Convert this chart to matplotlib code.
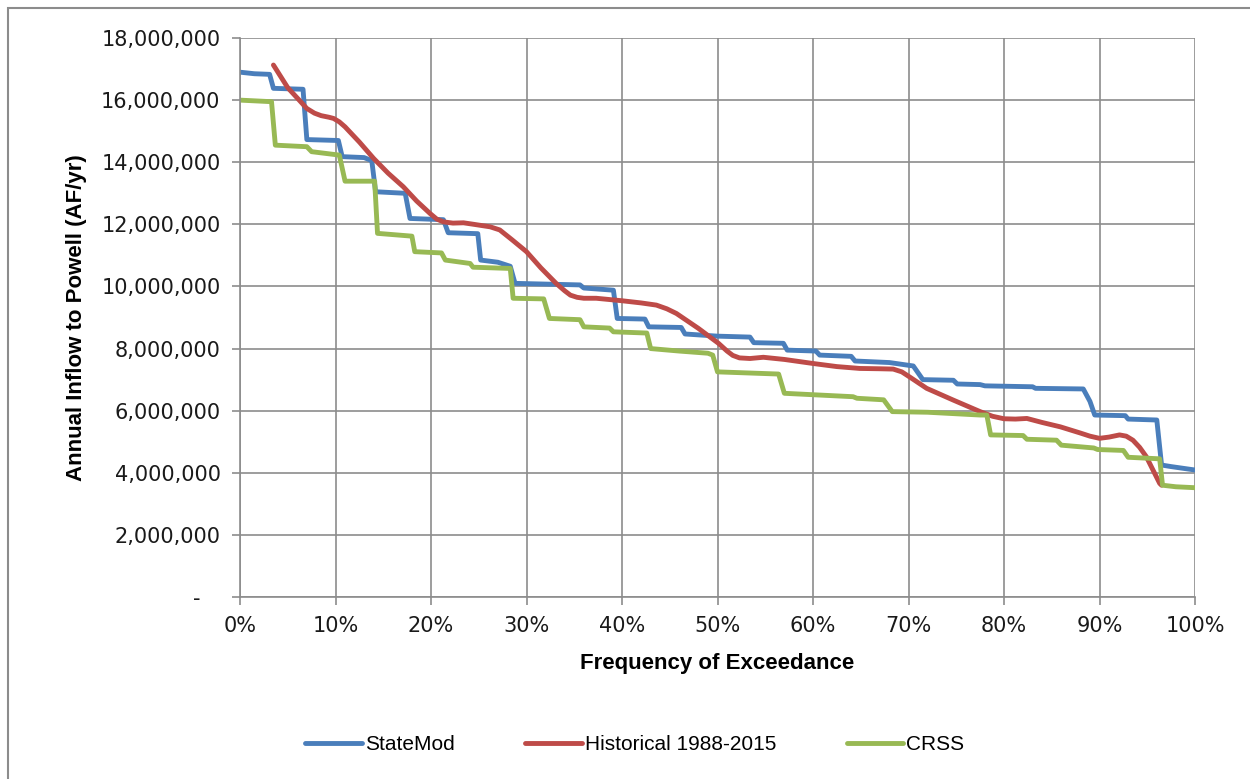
#Importing Libraries
import matplotlib.pyplot as plt
import matplotlib.ticker as mticker
from matplotlib.patches import Rectangle

plt.rcParams['font.family'] = ['DejaVu Sans']

# Exceedance curves (percent, million AF/yr)
statemod_pct = [0, 1.5, 3.1, 3.5, 6.6, 7.0, 10.3, 10.7, 13.0, 13.8, 14.2, 17.3, 17.8, 21.3, 21.8,
                24.9, 25.2, 27.0, 28.3, 28.8, 35.6, 36.0, 39.1, 39.5, 42.4, 42.8, 46.2, 46.6, 50.0,
                53.4, 53.8, 56.9, 57.3, 60.3, 60.7, 64.0, 64.4, 68.0, 70.5, 71.5, 74.7, 75.1, 77.5,
                78.0, 83.0, 83.3, 88.3, 89.0, 89.5, 92.7, 93.0, 96.0, 96.5, 97.5, 100]
statemod_val = [16.90, 16.85, 16.83, 16.38, 16.35, 14.73, 14.70, 14.18, 14.15, 14.05, 13.05, 13.00,
                12.19, 12.15, 11.73, 11.70, 10.85, 10.78, 10.65, 10.10, 10.05, 9.95, 9.88, 8.97,
                8.95, 8.70, 8.68, 8.47, 8.40, 8.37, 8.19, 8.17, 7.95, 7.92, 7.79, 7.75, 7.60, 7.55,
                7.44, 7.00, 6.98, 6.86, 6.84, 6.80, 6.77, 6.72, 6.70, 6.30, 5.86, 5.84, 5.73, 5.70,
                4.25, 4.20, 4.09]

hist_pct = [3.5, 5.0, 6.2, 7.0, 7.8, 8.5, 9.3, 9.8, 10.4, 11.0, 12.5, 14.0, 15.5, 17.1, 18.5,
            19.9, 20.6, 21.3, 22.3, 23.4, 24.5, 26.2, 27.2, 28.5, 30.0, 31.5, 33.1, 34.0, 34.6,
            35.3, 36.0, 37.3, 40.0, 42.0, 43.6, 44.7, 45.7, 48.0, 50.1, 51.0, 51.6, 52.3, 53.4,
            54.8, 57.0, 60.0, 62.5, 64.9, 67.0, 68.4, 69.3, 70.1, 71.9, 74.7, 77.5, 78.8, 80.0,
            81.2, 82.4, 84.0, 85.9, 88.0, 89.0, 90.0, 91.0, 92.1, 92.8, 93.5, 94.2, 94.9, 96.3,
            96.5]
hist_val = [17.13, 16.40, 16.00, 15.73, 15.58, 15.50, 15.45, 15.41, 15.30, 15.14, 14.65, 14.12,
            13.65, 13.21, 12.75, 12.35, 12.17, 12.08, 12.04, 12.05, 12.00, 11.92, 11.82, 11.50,
            11.12, 10.60, 10.10, 9.86, 9.72, 9.65, 9.62, 9.62, 9.54, 9.47, 9.40, 9.28, 9.13, 8.65,
            8.17, 7.92, 7.78, 7.70, 7.68, 7.72, 7.65, 7.52, 7.42, 7.36, 7.35, 7.34, 7.25, 7.09,
            6.72, 6.34, 5.97, 5.82, 5.74, 5.73, 5.75, 5.62, 5.48, 5.28, 5.18, 5.11, 5.15, 5.22,
            5.18, 5.05, 4.82, 4.52, 3.66, 3.60]

crss_pct = [0, 3.3, 3.4, 3.7, 7.0, 7.5, 10.4, 11.0, 14.1, 14.4, 18.0, 18.3, 21.1, 21.5, 24.1, 24.4,
            28.3, 28.6, 31.8, 32.4, 35.6, 36.0, 38.7, 39.1, 42.6, 43.0, 46.0, 49.0, 49.5, 50.0,
            56.4, 57.0, 64.2, 64.6, 67.4, 68.3, 72.0, 77.5, 78.2, 78.6, 82.0, 82.4, 85.5, 86.0,
            89.4, 89.8, 92.5, 93.0, 96.3, 96.6, 98.0, 100]
crss_val = [16.00, 15.95, 15.60, 14.55, 14.50, 14.34, 14.23, 13.39, 13.39, 11.71, 11.62, 11.12,
            11.08, 10.85, 10.74, 10.62, 10.58, 9.62, 9.60, 8.97, 8.93, 8.70, 8.66, 8.54, 8.50,
            8.00, 7.92, 7.85, 7.79, 7.25, 7.18, 6.56, 6.45, 6.40, 6.35, 5.97, 5.95, 5.86, 5.86,
            5.22, 5.20, 5.08, 5.05, 4.89, 4.80, 4.75, 4.72, 4.50, 4.45, 3.60, 3.55, 3.52]

series = [('StateMod', statemod_pct, statemod_val, '#4A7EBB'),
          ('Historical 1988-2015', hist_pct, hist_val, '#BE4B48'),
          ('CRSS', crss_pct, crss_val, '#98B954')]

label_font = ['Liberation Sans Narrow', 'Liberation Sans', 'DejaVu Sans']

fig = plt.figure(figsize=(12.5, 7.79), dpi=100)
ax = fig.add_axes([0.192, 0.2336, 0.764, 0.7176])

for name, pct, val, col in series:
    ax.plot([p / 100 for p in pct], [v * 1e6 for v in val], color=col, lw=3.5,
            label=name, solid_joinstyle='round', solid_capstyle='round')

ax.set_xlim(0, 1)
ax.set_ylim(0, 18e6)
ax.set_xticks([i / 10 for i in range(11)])
ax.set_yticks([i * 2e6 for i in range(10)])
ax.xaxis.set_major_formatter(mticker.FuncFormatter(lambda v, p: '{:.0f}%'.format(v * 100)))
ax.yaxis.set_major_formatter(mticker.FuncFormatter(
    lambda v, p: '-   ' if v == 0 else '{:,.0f}'.format(v)))
ax.grid(True, color='#8C8C8C', lw=1.2)
ax.set_axisbelow(True)
for s in ['top', 'right']:
    ax.spines[s].set_visible(False)
for s in ['left', 'bottom']:
    ax.spines[s].set_color('#8C8C8C')
    ax.spines[s].set_linewidth(1.2)
ax.tick_params(length=6, width=1.2, color='#8C8C8C', labelsize=15, labelcolor='#1a1a1a', pad=8)

ax.set_ylabel('Annual Inflow to Powell (AF/yr)', fontsize=16, fontweight='bold',
              family=label_font, labelpad=10)
ax.set_xlabel('Frequency of Exceedance', fontsize=16, fontweight='bold',
              family=label_font, labelpad=12)

leg = fig.legend(loc='center', bbox_to_anchor=(0.508, 0.044), ncol=3, frameon=False,
                 prop={'family': label_font, 'size': 15}, handlelength=2.7,
                 handletextpad=0.15, columnspacing=3.4)

# Outer chart border
fig.patches.append(Rectangle((8 / 1250, -0.02), 1.02, 1 - 8 / 779 + 0.02,
                             transform=fig.transFigure, fill=False,
                             edgecolor='#8C8C8C', lw=1.5))

fig.savefig('out.png', dpi=100)
